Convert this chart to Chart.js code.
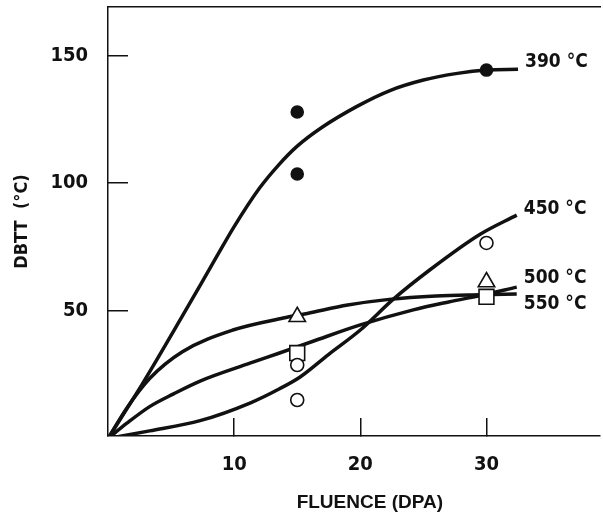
<!DOCTYPE html>
<html>
<head>
<meta charset="utf-8">
<script src="https://cdn.jsdelivr.net/npm/chart.js@4.4.1/dist/chart.umd.min.js"></script>
<style>
  html, body { margin: 0; padding: 0; background: #fff; }
</style>
</head>
<body>
<canvas id="grafico" width="603" height="515"></canvas>
<script>
// eixos
const xTicks = [10, 20, 30];
const yTicks = [50, 100, 150];
const rotulos = ['390 °C', '450 °C', '500 °C', '550 °C'];

// curvas ajustadas
const curva390X = [0, 2.8, 5.9, 8.7, 10, 12, 13.5, 15, 17, 19.7, 22.3, 25, 27.7, 30, 32.5];
const curva390Y = [0, 22, 48, 72, 83, 98, 107, 114.5, 122, 130, 136.2, 140.4, 143, 144.3, 144.6];
const curva450X = [0, 3.3, 7.3, 11.3, 13.6, 15.2, 17.5, 20, 22.6, 25.5, 29.5, 32.4];
const curva450Y = [0, 3, 7, 14, 19.5, 24, 33, 42.5, 54.5, 66, 80, 87.5];
const curva500X = [0, 1.5, 3.3, 5.9, 9.9, 13.9, 15.8, 19, 22.3, 26, 29.5, 32.4];
const curva500Y = [0, 12, 23.5, 34, 42.5, 47.2, 49, 52.3, 54.5, 55.8, 56.3, 56.6];
const curva550X = [0, 1.5, 3.3, 5.2, 7.3, 11.25, 13.6, 16.2, 20, 24.2, 27, 29.5, 32.4];
const curva550Y = [0, 6, 12.5, 17.5, 22.5, 29.5, 33.5, 38, 44.5, 50.4, 53.5, 56, 59.3];

// pontos medidos
const pontos390X = [15, 15, 30];
const pontos390Y = [127.9, 103.6, 144.3];
const pontos450X = [15, 15, 30];
const pontos450Y = [28.8, 15.1, 76.6];
const pontos500X = [15, 30];
const pontos500Y = [47.7, 61.3];
const pontos550X = [15, 30];
const pontos550Y = [33.5, 55.5];

const preto = '#111';
const fonteNum = "'DejaVu Sans Condensed', 'Liberation Sans Narrow', sans-serif";
const fonteTit = "'Liberation Sans', Arial, sans-serif";

function juntar(xs, ys) {
    return xs.map((x, i) => ({ x: x, y: ys[i] }));
}

function curva(xs, ys, rotulo, desloc) {
    return {
        type: 'line',
        data: juntar(xs, ys),
        borderColor: preto,
        borderWidth: 3.5,
        pointRadius: 0,
        cubicInterpolationMode: 'monotone',
        fill: false,
        order: 2,
        xAxisID: 'x',
        yAxisID: 'y',
        rotuloFinal: rotulo,
        deslocRotulo: desloc
    };
}

function pontos(xs, ys, estilo, raio, cheio) {
    return {
        type: 'scatter',
        data: juntar(xs, ys),
        pointStyle: estilo,
        pointRadius: raio,
        pointBackgroundColor: cheio ? preto : '#fff',
        pointBorderColor: preto,
        pointBorderWidth: 1.6,
        showLine: false,
        order: 1,
        xAxisID: 'x',
        yAxisID: 'y'
    };
}

// tira o espaco extra que o chart.js reserva para os rotulos
function semMargem(s) {
    s.paddingTop = 0;
    s.paddingBottom = 0;
    s.paddingLeft = 0;
    s.paddingRight = 0;
}

// escreve a temperatura na ponta de cada curva
const rotuloCurvas = {
    id: 'rotuloCurvas',
    afterDatasetsDraw(chart) {
        const ctx = chart.ctx;
        ctx.save();
        ctx.font = 'bold 19px ' + fonteNum;
        ctx.fillStyle = preto;
        ctx.textAlign = 'left';
        ctx.textBaseline = 'middle';
        chart.data.datasets.forEach((ds, i) => {
            if (!ds.rotuloFinal) return;
            const meta = chart.getDatasetMeta(i);
            const ult = meta.data[meta.data.length - 1];
            ctx.fillText(ds.rotuloFinal, ult.x + 7, ult.y + ds.deslocRotulo);
        });
        ctx.restore();
    }
};

new Chart(document.getElementById('grafico'), {
    type: 'scatter',
    data: {
        datasets: [
            pontos(pontos390X, pontos390Y, 'circle', 6, true),
            pontos(pontos450X, pontos450Y, 'circle', 6.5, false),
            pontos(pontos500X, pontos500Y, 'triangle', 9.5, false),
            pontos(pontos550X, pontos550Y, 'rect', 10.5, false),
            curva(curva390X, curva390Y, rotulos[0], -7),
            curva(curva450X, curva450Y, rotulos[1], -6),
            curva(curva500X, curva500Y, rotulos[2], -15.5),
            curva(curva550X, curva550Y, rotulos[3], 16.5)
        ]
    },
    options: {
        responsive: false,
        animation: false,
        events: [],
        layout: { autoPadding: false, padding: { top: 7, right: 3, left: 0, bottom: 0 } },
        plugins: {
            legend: { display: false },
            tooltip: { enabled: false }
        },
        scales: {
            x: {
                type: 'linear',
                position: 'bottom',
                min: 0,
                max: 39,
                afterBuildTicks: s => { s.ticks = xTicks.map(v => ({ value: v })); },
                afterFit: s => { s.height = 79; semMargem(s); },
                grid: { drawOnChartArea: false, tickLength: -18, color: preto, lineWidth: 1.5 },
                border: { color: preto, width: 1.5 },
                ticks: { padding: 35, color: preto, font: { family: fonteNum, size: 20, weight: 'bold' } },
                title: {
                    display: true,
                    text: '      FLUENCE (DPA)',
                    color: preto,
                    padding: { top: 1, bottom: 1 },
                    font: { family: fonteTit, size: 19, weight: 'bold' }
                }
            },
            y: {
                type: 'linear',
                position: 'left',
                min: 1,
                max: 169,
                afterBuildTicks: s => { s.ticks = yTicks.map(v => ({ value: v })); },
                afterFit: s => { s.width = 108; semMargem(s); },
                grid: { drawOnChartArea: false, tickLength: -20, color: preto, lineWidth: 1.5 },
                border: { color: preto, width: 1.5 },
                ticks: { padding: 40, color: preto, font: { family: fonteNum, size: 20, weight: 'bold' } },
                title: {
                    display: true,
                    text: 'DBTT  (°C)',
                    color: preto,
                    padding: { top: 12, bottom: 0 },
                    font: { family: fonteNum, size: 18, weight: 'bold' }
                }
            },
            topo: {
                type: 'linear',
                position: 'top',
                display: true,
                afterFit: s => { s.height = 0; semMargem(s); },
                ticks: { display: false },
                grid: { display: false },
                border: { color: preto, width: 1.5 }
            }
        }
    },
    plugins: [rotuloCurvas]
});
</script>
</body>
</html>
